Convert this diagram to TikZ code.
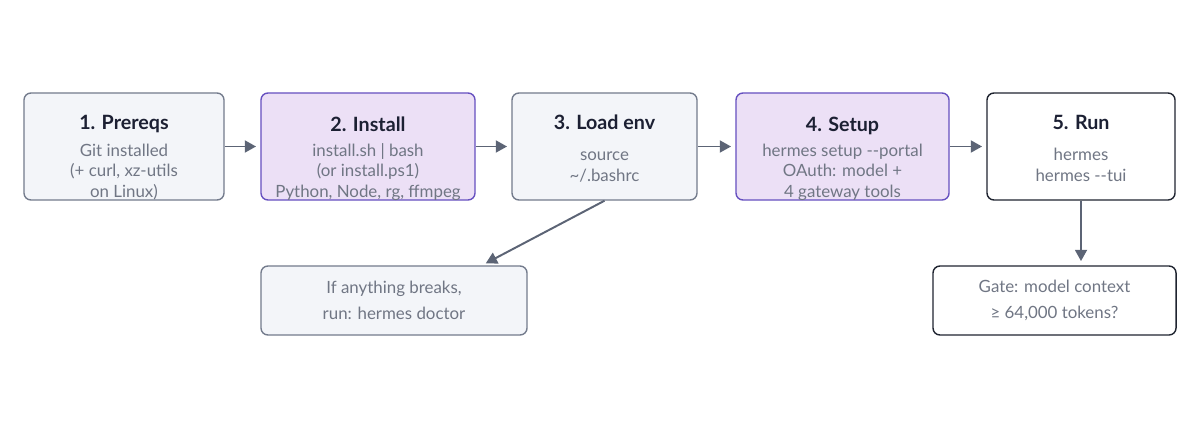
\documentclass[tikz,border=0pt]{standalone}
\usepackage{fontspec}
\setmainfont{Lato}
\usetikzlibrary{positioning,arrows.meta,calc}
\definecolor{ink}{RGB}{28,32,51}
\definecolor{mute}{RGB}{112,118,132}
\definecolor{softfill}{RGB}{243,245,249}
\definecolor{softline}{RGB}{115,123,140}
\definecolor{lilac}{RGB}{236,224,246}
\definecolor{lilacline}{RGB}{102,80,192}
\definecolor{darkline}{RGB}{31,36,48}
\definecolor{arrowc}{RGB}{92,100,117}

\begin{document}
\begin{tikzpicture}[x=0.025cm, y=-0.025cm,
  n/.style={draw, rounded corners=5pt, align=center, inner sep=0pt, line width=1pt,
    text=mute, font=\fontsize{12}{14.3}\selectfont},
  three/.style={text height=2.6cm, text depth=0.075cm},
  two/.style={text height=2.2cm, text depth=0.475cm},
  soft/.style={n, fill=softfill, draw=softline},
  lil/.style={n, fill=lilac, draw=lilacline},
  plain/.style={n, fill=white, draw=darkline},
  note/.style={draw, rounded corners=5pt, align=center, inner sep=0pt, line width=1pt,
    text=mute, font=\fontsize{12}{18}\selectfont, minimum height=1.725cm},
  e/.style={-{Triangle[length=8pt,width=8.5pt]}, line width=1.4pt, draw=arrowc, shorten >=3pt}]
  \useasboundingbox (0,0) rectangle (1200,427);
  \newcommand{\ttl}[2][5pt]{{\color{ink}\fontsize{14}{15}\selectfont\bfseries #2}\\[#1]}
  \node[soft, three, minimum width=5cm]     (pre)  at (124,146.5)   {\ttl{1. Prereqs}Git installed\\ (+ curl, xz-utils\\ on Linux)};
  \node[lil, three, minimum width=5.35cm]   (inst) at (368,146.5)   {\ttl[4pt]{2. Install}install.sh | bash\\ (or install.ps1)\\ Python, Node, rg, ffmpeg};
  \node[soft, two, minimum width=4.625cm]   (env)  at (604.5,146.5) {\ttl[8pt]{3. Load env}source\\ \textasciitilde/.bashrc};
  \node[lil, three, minimum width=5.325cm]  (set)  at (842.5,146.5) {\ttl[4pt]{4. Setup}hermes setup -{}-portal\\ OAuth: model +\\ 4 gateway tools};
  \node[plain, two, minimum width=4.7cm]    (run)  at (1081,146.5)  {\ttl[8pt]{5. Run}hermes\\ hermes -{}-tui};
  \node[note, fill=softfill, draw=softline, minimum width=6.65cm] (doc) at (394,300.5)
    {If anything breaks,\\ run: hermes doctor};
  \node[note, fill=white, draw=darkline, minimum width=6.075cm] (gate) at (1054.5,300.5)
    {Gate: model context\\ ≥ 64,000 tokens?};
  \draw[e] (pre) -- (inst);
  \draw[e] (inst) -- (env);
  \draw[e] (env) -- (set);
  \draw[e] (set) -- (run);
  \draw[e] (env.south) -- ([xshift=2.2cm]doc.north);
  \draw[e] (run.south) -- (run.south |- gate.north);
\end{tikzpicture}
\end{document}
